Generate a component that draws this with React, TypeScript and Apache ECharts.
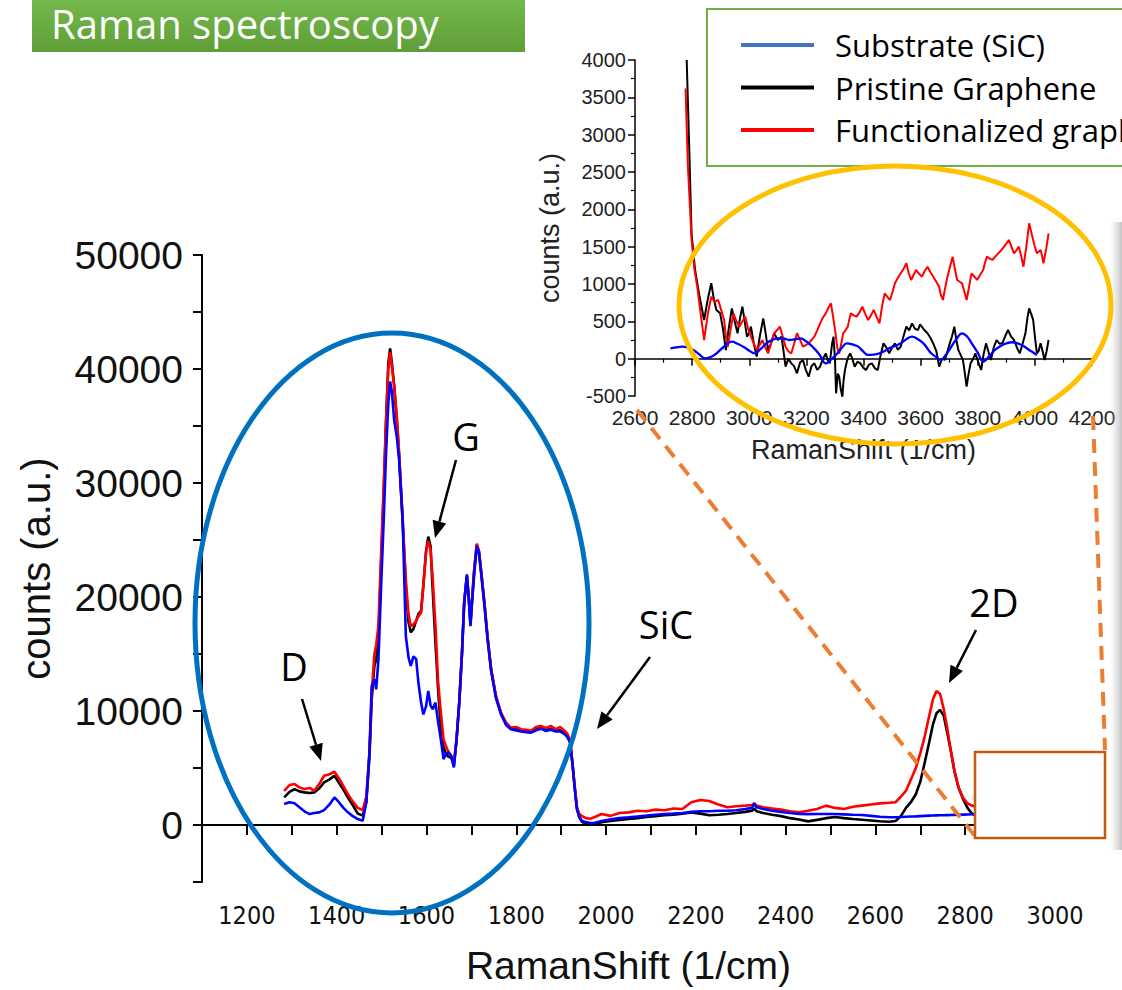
import React, { useEffect, useRef } from "react";
import * as echarts from "echarts";

// ---------- Main spectrum (shared Raman shift grid, 1/cm) ----------
const mainShift = [
  1283, 1295, 1306, 1317, 1328, 1340, 1350, 1361, 1372, 1384,
  1395, 1405, 1415, 1425, 1435, 1447, 1458, 1466, 1473, 1478,
  1484, 1488, 1493, 1499, 1505, 1510, 1515, 1519, 1523, 1528,
  1534, 1539, 1547, 1554, 1560, 1565, 1571, 1577, 1582, 1588,
  1593, 1599, 1604, 1609, 1614, 1620, 1626, 1632, 1638, 1643,
  1648, 1655, 1661, 1667, 1673, 1679, 1684, 1690, 1694, 1698,
  1702, 1706, 1712, 1717, 1723, 1729, 1736, 1744, 1755, 1766,
  1777, 1788, 1800, 1811, 1822, 1833, 1844, 1855, 1866, 1877,
  1888, 1898, 1907, 1914, 1920, 1925, 1930, 1935, 1940, 1946,
  1955, 1965, 1975, 1990, 2010, 2030, 2050, 2070, 2090, 2110,
  2130, 2150, 2170, 2190, 2210, 2230, 2250, 2270, 2290, 2310,
  2325, 2330, 2335, 2350, 2370, 2390, 2410, 2430, 2450, 2470,
  2490, 2510, 2530, 2550, 2570, 2590, 2610, 2630, 2645, 2657,
  2668, 2679, 2690, 2700, 2710, 2720, 2728, 2736, 2744, 2752,
  2760, 2768, 2776, 2785, 2795, 2805, 2815, 2825, 2840,
];
const mainFunctionalized = [
  3000, 3500, 3590, 3300, 3150, 3250, 3000, 3600, 4320, 4450,
  4670, 4100, 3400, 2700, 2100, 1500, 1300, 2500, 6370, 11500,
  15000, 15800, 17500, 23880, 30000, 35550, 40000, 41500, 40200, 38470,
  35800, 32640, 26800, 21500, 18500, 17450, 17600, 17890, 18300, 18620,
  21000, 23880, 24900, 24200, 21500, 17500, 12500, 9870, 7500, 6950,
  6500, 6070, 5190, 7500, 10740, 15000, 19500, 21830, 20000, 17750,
  20000, 22130, 24690, 24000, 21800, 19500, 16500, 13660, 11300, 9870,
  9000, 8550, 8600, 8400, 8350, 8260, 8600, 8700, 8500, 8700,
  8400, 8600, 8300, 8000, 7400, 5500, 3450, 1600, 1000, 800,
  600, 550, 700, 960, 800, 1050, 1110, 1250, 1200, 1350,
  1300, 1450, 1400, 2000, 2200, 2100, 1800, 1550, 1650, 1700,
  1750, 1900, 1700, 1550, 1450, 1350, 1200, 1110, 1250, 1400,
  1700, 1500, 1400, 1600, 1700, 1800, 1900, 1950, 2000, 2500,
  3000, 4000, 5000, 6300, 7800, 9600, 11000, 11760, 11500, 10200,
  8500, 6500, 4800, 3300, 2400, 1900, 1700, 1600, 1600,
];
const mainPristine = [
  2420, 2900, 3150, 2950, 2860, 2800, 2860, 3200, 3740, 4000,
  4320, 3700, 3100, 2400, 1800, 1000, 820, 2000, 6000, 11000,
  13950, 14500, 16500, 23000, 29500, 35500, 40500, 41800, 40500, 38600,
  35500, 32500, 26500, 21000, 17800, 16900, 17200, 17900, 18500, 18800,
  21000, 24000, 25300, 24500, 20500, 16000, 11800, 8500, 6800, 6300,
  6000, 5900, 5300, 7500, 10740, 15000, 19500, 21830, 20000, 17600,
  20000, 22300, 24600, 24000, 21800, 19500, 16500, 13660, 11200, 9800,
  8900, 8450, 8400, 8300, 8250, 8200, 8400, 8550, 8350, 8450,
  8300, 8300, 8100, 7800, 7300, 5500, 3400, 1500, 700, 300,
  100, 50, 80, 250, 350, 450, 525, 600, 700, 780,
  850, 900, 1000, 1100, 1000, 850, 900, 960, 1050, 1150,
  1250, 1450, 1200, 1050, 900, 780, 600, 480, 320, 450,
  600, 700, 600, 520, 465, 400, 330, 290, 350, 800,
  1500, 2000, 2700, 3800, 5500, 7300, 8800, 9800, 10100, 9600,
  8100, 6500, 4700, 3300, 2300, 1500, 1000, 800, 700,
];
const mainSubstrate = [
  1840, 2000, 1900, 1550, 1200, 960, 1050, 1110, 1300, 1800,
  2420, 2000, 1500, 1110, 800, 525, 380, 2000, 6370, 12200,
  12780, 11900, 14500, 20960, 27000, 32640, 37000, 38900, 38000, 35550,
  34000, 32050, 26800, 16580, 14700, 13950, 14800, 14540, 12500, 10740,
  9700, 10400, 11760, 10500, 10160, 10740, 9000, 7500, 5780, 6200,
  6370, 6070, 5050, 7500, 10740, 15000, 19500, 21980, 20000, 17450,
  19800, 21830, 24460, 23800, 21600, 19300, 16300, 13500, 11100, 9700,
  8800, 8400, 8300, 8200, 8150, 8100, 8300, 8450, 8250, 8350,
  8200, 8200, 8000, 7700, 7200, 5400, 3300, 1400, 800, 380,
  250, 175, 200, 350, 500, 600, 670, 750, 820, 900,
  960, 1000, 1050, 1150, 1200, 1200, 1250, 1250, 1300, 1400,
  1500, 1900, 1550, 1400, 1250, 1150, 1050, 960, 950, 960,
  960, 960, 930, 900, 875, 800, 720, 680, 680, 700,
  720, 740, 760, 780, 800, 820, 830, 840, 850, 860,
  870, 880, 890, 900, 910, 920, 940, 960, 960,
];

// ---------- Inset (zoom 2600-4200 1/cm) ----------
const insetShiftPristine = [
  2781, 2790, 2798, 2810, 2824, 2842, 2855, 2867, 2876, 2885,
  2898, 2908, 2918, 2928, 2939, 2949, 2959, 2968, 2976, 2984,
  2992, 3000, 3006, 3016, 3026, 3037, 3049, 3057, 3066, 3076,
  3087, 3100, 3113, 3120, 3127, 3137, 3147, 3157, 3167, 3178,
  3188, 3198, 3208, 3218, 3228, 3238, 3248, 3258, 3268, 3275,
  3282, 3290, 3295, 3300, 3304, 3310, 3315, 3320, 3326, 3330,
  3335, 3344, 3353, 3361, 3369, 3379, 3389, 3399, 3409, 3419,
  3429, 3440, 3450, 3460, 3470, 3480, 3490, 3500, 3510, 3520,
  3530, 3540, 3550, 3560, 3570, 3580, 3591, 3598, 3604, 3614,
  3624, 3634, 3644, 3655, 3665, 3675, 3685, 3694, 3702, 3710,
  3718, 3725, 3732, 3740, 3748, 3755, 3761, 3768, 3775, 3784,
  3792, 3802, 3812, 3820, 3829, 3837, 3846, 3856, 3866, 3876,
  3886, 3896, 3906, 3916, 3927, 3937, 3947, 3957, 3967, 3974,
  3980, 3987, 3994, 4000, 4007, 4013, 4020, 4027, 4034, 4041,
  4048,
];
const insetPristine = [
  4000, 2800, 1680, 1200, 875, 518, 800, 1010, 800, 652,
  607, 400, 116, 400, 674, 500, 340, 550, 696, 500,
  295, 350, 429, 200, 27, 300, 540, 350, 116, 200,
  340, 250, 295, 100, -107, 0, -62, -100, -196, -50,
  -17, -150, -241, -100, -62, -150, -107, 0, 70, -20,
  -62, 200, 295, 0, -464, -200, -241, -400, -510, -300,
  -152, 0, 70, 0, -107, -40, -62, -120, -152, -80,
  -62, -130, -152, 50, 205, 150, 70, 150, 205, 120,
  160, 300, 429, 380, 473, 400, 384, 460, 429, 380,
  340, 280, 205, 100, -107, 0, -17, 100, 205, 300,
  429, 250, 116, 50, -17, -200, -375, -200, -62, 0,
  70, -50, -152, 50, 205, 100, -17, 150, 250, 200,
  205, 300, 384, 300, 250, 150, 70, 200, 340, 550,
  674, 600, 518, 300, 70, 100, 205, 100, -17, 100,
  250,
];
const insetShiftFunctionalized = [
  2777, 2785, 2798, 2808, 2818, 2830, 2842, 2855, 2867, 2879,
  2891, 2902, 2912, 2918, 2925, 2935, 2945, 2955, 2966, 2976,
  2986, 2996, 3006, 3016, 3026, 3036, 3046, 3056, 3066, 3076,
  3087, 3097, 3107, 3117, 3127, 3137, 3147, 3157, 3167, 3178,
  3188, 3198, 3208, 3218, 3228, 3238, 3248, 3258, 3268, 3277,
  3286, 3294, 3302, 3308, 3315, 3322, 3329, 3337, 3345, 3350,
  3356, 3366, 3376, 3386, 3396, 3406, 3416, 3426, 3436, 3446,
  3456, 3465, 3474, 3483, 3493, 3502, 3510, 3520, 3530, 3540,
  3550, 3558, 3567, 3575, 3584, 3594, 3604, 3614, 3624, 3634,
  3644, 3655, 3665, 3671, 3678, 3686, 3694, 3703, 3712, 3720,
  3728, 3737, 3745, 3753, 3761, 3770, 3778, 3788, 3798, 3808,
  3819, 3825, 3832, 3842, 3852, 3862, 3872, 3882, 3892, 3900,
  3909, 3918, 3927, 3935, 3944, 3952, 3960, 3970, 3980, 3987,
  3994, 4000, 4007, 4013, 4020, 4025, 4030, 4040, 4048,
];
const insetFunctionalized = [
  3620, 2600, 1600, 1200, 964, 600, 250, 600, 830, 760,
  786, 650, 518, 300, 160, 400, 607, 500, 429, 500,
  563, 400, 295, 200, 116, 180, 250, 150, 70, 200,
  340, 380, 429, 300, 160, 100, 70, 200, 340, 250,
  160, 180, 205, 250, 295, 380, 473, 550, 607, 680,
  741, 550, 340, 150, 70, 200, 340, 380, 429, 520,
  607, 580, 563, 620, 696, 600, 518, 580, 652, 560,
  473, 700, 875, 830, 786, 900, 1009, 1080, 1143, 1200,
  1277, 1150, 1054, 1120, 1188, 1140, 1098, 1170, 1232, 1160,
  1098, 1030, 964, 850, 786, 950, 1098, 1230, 1366, 1200,
  1054, 1030, 1009, 900, 786, 970, 1143, 1100, 1054, 1120,
  1188, 1280, 1366, 1340, 1322, 1370, 1411, 1450, 1500, 1540,
  1590, 1500, 1411, 1450, 1500, 1380, 1232, 1500, 1813, 1700,
  1590, 1500, 1411, 1430, 1456, 1380, 1277, 1480, 1679,
];
const insetShiftSubstrate = [
  2724, 2744, 2764, 2784, 2804, 2824, 2845, 2878, 2908, 2939,
  2959, 2979, 2999, 3019, 3040, 3060, 3080, 3100, 3120, 3140,
  3160, 3180, 3200, 3221, 3245, 3268, 3290, 3309, 3325, 3341,
  3362, 3382, 3398, 3415, 3435, 3456, 3473, 3490, 3510, 3530,
  3550, 3570, 3590, 3610, 3625, 3637, 3655, 3671, 3688, 3704,
  3725, 3745, 3762, 3779, 3800, 3819, 3840, 3860, 3880, 3900,
  3920, 3940, 3960, 3980, 3995, 4007,
];
const insetSubstrate = [
  139, 150, 161, 150, 116, 60, 5, 50, 150, 228,
  200, 161, 110, 72, 130, 205, 250, 272, 270, 250,
  260, 272, 230, 161, 60, -62, 0, 72, 150, 205,
  190, 161, 100, 50, 55, 72, 100, 139, 170, 205,
  260, 295, 260, 205, 130, 72, 20, -17, 50, 139,
  260, 340, 300, 205, 80, -40, 30, 116, 170, 205,
  220, 205, 170, 116, 80, 50,
];

const seriesNames = ["Substrate (SiC)", "Pristine Graphene", "Functionalized graphene"];
const legendColors = ["#4472c4", "#000000", "#ff0000"];
const lineColors = { substrate: "#0000ff", pristine: "#000000", functionalized: "#ff0000" };

const titleText = "Raman spectroscopy";
const axisNameX = "RamanShift (1/cm)";
const axisNameY = "counts (a.u.)";

// peak annotations: label, label centre, arrow start, arrow tip (pixels on the slide)
const annotations = [
  { text: "D", lx: 294, ly: 666, sx: 302, sy: 699, tx: 321, ty: 761 },
  { text: "G", lx: 466, ly: 436, sx: 456, sy: 460, tx: 435, ty: 538 },
  { text: "SiC", lx: 666, ly: 624, sx: 650, sy: 657, tx: 597, ty: 729 },
  { text: "2D", lx: 994, ly: 602, sx: 976, sy: 630, tx: 949, ty: 683 },
];

const zip = (xs: number[], ys: number[]) => xs.map((x, i) => [x, ys[i]]);

function arrow(sx: number, sy: number, tx: number, ty: number) {
  const dx = tx - sx;
  const dy = ty - sy;
  const len = Math.sqrt(dx * dx + dy * dy);
  const ux = dx / len;
  const uy = dy / len;
  const L = 17;
  const W = 7;
  const bx = tx - ux * L;
  const by = ty - uy * L;
  const nx = -uy;
  const ny = ux;
  return [
    {
      type: "line",
      z: 60,
      shape: { x1: sx, y1: sy, x2: bx, y2: by },
      style: { stroke: "#000", lineWidth: 2.5 },
    },
    {
      type: "polygon",
      z: 60,
      shape: {
        points: [
          [tx, ty],
          [bx + nx * W, by + ny * W],
          [bx - nx * W, by - ny * W],
        ],
      },
      style: { fill: "#000" },
    },
  ];
}

const labelFont = "'Liberation Sans', Arial, Helvetica, sans-serif";
const narrowFont = "'Liberation Sans Narrow', 'Arial Narrow', 'DejaVu Sans Condensed', 'Liberation Sans', sans-serif";
const slideFont = "'Open Sans', 'Noto Sans', sans-serif";

export default function App() {
  const ref = useRef<HTMLDivElement>(null);

  useEffect(() => {
    if (!ref.current) return;
    const chart = echarts.init(ref.current, undefined, { renderer: "svg" });

    const graphics: any[] = [
      // title banner
      {
        type: "rect",
        z: 1,
        shape: { x: 32, y: -2, width: 493, height: 54 },
        style: {
          fill: new echarts.graphic.LinearGradient(0, 0, 0, 1, [
            { offset: 0, color: "#74ba4d" },
            { offset: 1, color: "#5f9e37" },
          ]),
        },
      },
      // right-edge shadow
      {
        type: "rect",
        z: 1,
        shape: { x: 1110, y: 222, width: 12, height: 628 },
        style: {
          fill: new echarts.graphic.LinearGradient(0, 0, 1, 0, [
            { offset: 0, color: "rgba(210,210,210,0)" },
            { offset: 1, color: "rgba(190,190,190,0.9)" },
          ]),
        },
      },
      // blue ellipse around D / G region
      {
        type: "ellipse",
        z: 55,
        shape: { cx: 392, cy: 623, rx: 197, ry: 290 },
        style: { fill: "none", stroke: "#0070c0", lineWidth: 5 },
      },
      // yellow ellipse in inset
      {
        type: "ellipse",
        z: 55,
        shape: { cx: 895, cy: 305, rx: 216, ry: 139 },
        style: { fill: "none", stroke: "#ffc000", lineWidth: 5 },
      },
      // dashed zoom lines
      {
        type: "line",
        z: 56,
        shape: { x1: 637, y1: 410, x2: 975, y2: 836 },
        style: { stroke: "#ed7d31", lineWidth: 4, lineDash: [14, 9] },
      },
      {
        type: "line",
        z: 56,
        shape: { x1: 1093, y1: 416, x2: 1105, y2: 750 },
        style: { stroke: "#ed7d31", lineWidth: 4, lineDash: [14, 9] },
      },
      // zoom box
      {
        type: "rect",
        z: 57,
        shape: { x: 975, y: 752, width: 130, height: 86 },
        style: { fill: "#ffffff", stroke: "#c55a11", lineWidth: 2.5 },
      },
    ];

    annotations.forEach((a) => {
      graphics.push({
        type: "text",
        z: 60,
        x: a.lx,
        y: a.ly,
        style: {
          text: a.text,
          fill: "#000",
          font: `38px ${slideFont}`,
          align: "center",
          verticalAlign: "middle",
        },
      });
      graphics.push(...arrow(a.sx, a.sy, a.tx, a.ty));
    });

    const option: any = {
      animation: false,
      backgroundColor: "#ffffff",
      title: {
        text: titleText,
        left: 51,
        top: 2,
        padding: 0,
        z: 10,
        textStyle: {
          color: "#ffffff",
          fontFamily: slideFont,
          fontWeight: "normal",
          fontSize: 40,
          lineHeight: 42,
        },
      },
      legend: {
        orient: "vertical",
        left: 707,
        top: 9,
        z: 20,
        padding: [20, 20, 20, 34],
        itemGap: 10.5,
        itemWidth: 73,
        itemHeight: 4,
        icon: "rect",
        backgroundColor: "#ffffff",
        borderColor: "#70ad47",
        borderWidth: 2,
        selectedMode: false,
        textStyle: {
          fontFamily: slideFont,
          fontSize: 31,
          color: "#000",
          lineHeight: 32,
          padding: [0, 0, 0, 16],
        },
        data: seriesNames.map((n, i) => ({
          name: n,
          itemStyle: { color: legendColors[i] },
          lineStyle: { color: legendColors[i], width: 4 },
        })),
      },
      grid: [
        { left: 202, right: 67, top: 255, bottom: 107 },
        { left: 635, right: 30, top: 60, bottom: 594 },
      ],
      xAxis: [
        {
          type: "value",
          gridIndex: 0,
          min: 1100,
          max: 3000,
          interval: 100,
          name: axisNameX,
          nameLocation: "middle",
          nameGap: 64,
          nameTextStyle: { fontFamily: labelFont, fontSize: 39, color: "#111" },
          axisLine: { show: true, lineStyle: { color: "#000", width: 2 } },
          axisTick: { show: true, length: 10, lineStyle: { color: "#000", width: 2 } },
          axisLabel: {
            margin: 21,
            fontFamily: narrowFont,
            fontSize: 25,
            color: "#111",
            formatter: (v: number) => (v % 200 === 0 ? String(v) : ""),
          },
          splitLine: { show: false },
        },
        {
          type: "value",
          gridIndex: 1,
          min: 2600,
          max: 4200,
          interval: 200,
          name: axisNameX,
          nameLocation: "middle",
          nameGap: 40,
          nameTextStyle: { fontFamily: labelFont, fontSize: 27, color: "#222" },
          axisLine: { show: true, lineStyle: { color: "#000", width: 1.5 } },
          axisTick: { show: true, length: 7, lineStyle: { color: "#000", width: 1.5 } },
          minorTick: { show: true, splitNumber: 2, length: 4, lineStyle: { color: "#000", width: 1.2 } },
          axisLabel: {
            margin: 11,
            fontFamily: labelFont,
            fontSize: 21,
            color: "#222",
            formatter: (v: number) => String(v),
          },
          splitLine: { show: false },
        },
      ],
      yAxis: [
        {
          type: "value",
          gridIndex: 0,
          min: -5000,
          max: 50000,
          interval: 5000,
          name: axisNameY,
          nameLocation: "middle",
          nameGap: 146,
          nameTextStyle: { fontFamily: labelFont, fontSize: 40, color: "#111" },
          axisLine: { show: true, lineStyle: { color: "#000", width: 2 } },
          axisTick: { show: true, length: 9, lineStyle: { color: "#000", width: 2 } },
          axisLabel: {
            margin: 19,
            fontFamily: labelFont,
            fontSize: 39,
            color: "#111",
            formatter: (v: number) => (v >= 0 && v % 10000 === 0 ? String(v) : ""),
          },
          splitLine: { show: false },
        },
        {
          type: "value",
          gridIndex: 1,
          min: -500,
          max: 4000,
          interval: 500,
          name: axisNameY,
          nameLocation: "middle",
          nameGap: 72,
          nameTextStyle: { fontFamily: labelFont, fontSize: 27, color: "#222" },
          axisLine: { show: true, lineStyle: { color: "#000", width: 1.5 } },
          axisTick: { show: true, length: 7, lineStyle: { color: "#000", width: 1.5 } },
          minorTick: { show: true, splitNumber: 2, length: 4, lineStyle: { color: "#000", width: 1.2 } },
          axisLabel: {
            margin: 9,
            fontFamily: labelFont,
            fontSize: 20,
            color: "#222",
            formatter: (v: number) => String(v),
          },
          splitLine: { show: false },
        },
      ],
      series: [
        {
          name: seriesNames[1],
          type: "line",
          xAxisIndex: 0,
          yAxisIndex: 0,
          showSymbol: false,
          symbol: "none",
          z: 2,
          lineStyle: { color: lineColors.pristine, width: 2.6 },
          itemStyle: { color: lineColors.pristine },
          data: zip(mainShift, mainPristine),
        },
        {
          name: seriesNames[2],
          type: "line",
          xAxisIndex: 0,
          yAxisIndex: 0,
          showSymbol: false,
          symbol: "none",
          z: 3,
          lineStyle: { color: lineColors.functionalized, width: 2.6 },
          itemStyle: { color: lineColors.functionalized },
          data: zip(mainShift, mainFunctionalized),
        },
        {
          name: seriesNames[0],
          type: "line",
          xAxisIndex: 0,
          yAxisIndex: 0,
          showSymbol: false,
          symbol: "none",
          z: 4,
          lineStyle: { color: lineColors.substrate, width: 2.6 },
          itemStyle: { color: lineColors.substrate },
          data: zip(mainShift, mainSubstrate),
        },
        {
          name: seriesNames[1],
          type: "line",
          xAxisIndex: 1,
          yAxisIndex: 1,
          showSymbol: false,
          symbol: "none",
          z: 2,
          lineStyle: { color: lineColors.pristine, width: 2 },
          itemStyle: { color: lineColors.pristine },
          data: zip(insetShiftPristine, insetPristine),
        },
        {
          name: seriesNames[2],
          type: "line",
          xAxisIndex: 1,
          yAxisIndex: 1,
          showSymbol: false,
          symbol: "none",
          z: 3,
          lineStyle: { color: lineColors.functionalized, width: 2 },
          itemStyle: { color: lineColors.functionalized },
          data: zip(insetShiftFunctionalized, insetFunctionalized),
        },
        {
          name: seriesNames[0],
          type: "line",
          xAxisIndex: 1,
          yAxisIndex: 1,
          showSymbol: false,
          symbol: "none",
          smooth: 0.4,
          z: 4,
          lineStyle: { color: lineColors.substrate, width: 2.3 },
          itemStyle: { color: lineColors.substrate },
          data: zip(insetShiftSubstrate, insetSubstrate),
        },
      ],
      graphic: { elements: graphics },
    };

    chart.setOption(option);
    return () => chart.dispose();
  }, []);

  return (
    <div
      ref={ref}
      style={{
        position: "fixed",
        left: 0,
        top: 0,
        width: 1122,
        height: 990,
        background: "#ffffff",
        overflow: "hidden",
      }}
    />
  );
}
